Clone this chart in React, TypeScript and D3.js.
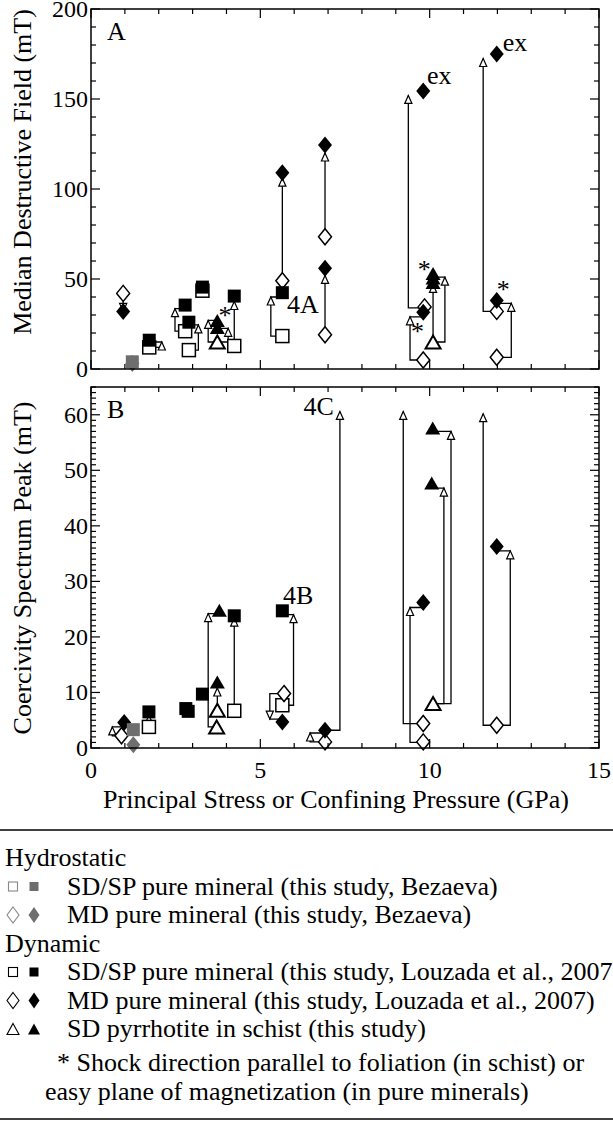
import React from "react";
import * as d3 from "d3";

// Shock demagnetization summary: two stacked panels + legend
const W = 613;
const H = 1124;
const FONT = "Liberation Serif, Tinos, Times New Roman, DejaVu Serif, serif";

// ---- panel A: median destructive field (mT) ----
const openSquaresA = [[1.72, 12], [2.78, 21], [2.89, 10.5], [3.29, 43.5], [4.23, 12.8], [5.65, 18.3]];
const filledSquaresA = [[1.72, 16], [2.78, 35.5], [2.89, 26], [3.29, 45.5], [4.23, 40.5], [5.65, 42.4]];
const openDiamondsA = [[0.95, 42], [5.65, 49], [6.91, 73.5], [6.91, 19], [9.85, 34.5], [9.81, 5], [11.98, 32], [11.98, 6.5]];
const filledDiamondsA = [[0.95, 32], [5.65, 109], [6.91, 124.5], [6.91, 56], [9.81, 154.5], [9.81, 31.5], [11.98, 175], [11.98, 38]];
const openTrianglesA = [[3.73, 15], [10.1, 15]];
const filledTrianglesA = [[3.73, 23], [3.73, 27], [10.1, 48], [10.1, 50.5], [10.1, 53]];
const graySquaresA = [[1.22, 4]];
const grayDiamondsA = [[1.22, 3]];
// x: pressure of sample, from -> to (mT), off: offset of the arrow shaft (GPa)
const arrowsA = [
  { x: 0.95, from: 42, to: 32, off: 0 },
  { x: 1.72, from: 12, to: 15, off: 0.37 },
  { x: 2.78, from: 21, to: 33.5, off: -0.3 },
  { x: 2.89, from: 10.5, to: 24.5, off: 0.28 },
  { x: 3.73, from: 15, to: 27, off: -0.27 },
  { x: 3.73, from: 15, to: 22.6, off: 0.32 },
  { x: 4.23, from: 12.8, to: 37.5, off: 0 },
  { x: 5.65, from: 49, to: 106, off: 0 },
  { x: 5.65, from: 18.3, to: 40, off: -0.34 },
  { x: 6.91, from: 73.5, to: 120, off: 0 },
  { x: 6.91, from: 19, to: 52, off: 0 },
  { x: 9.81, from: 34, to: 152, off: -0.44 },
  { x: 9.81, from: 5, to: 29, off: -0.39 },
  { x: 10.1, from: 15, to: 47, off: 0 },
  { x: 10.1, from: 15, to: 51, off: 0.35 },
  { x: 11.98, from: 32, to: 172.5, off: -0.4 },
  { x: 11.98, from: 6.5, to: 36.5, off: 0.43 },
];
const asterisksA = [[3.96, 32], [9.84, 57.8], [9.64, 23.5], [12.17, 46.7]];
const labelsA = [
  { x: 9.92, y: 163, text: "ex", anchor: "start" },
  { x: 12.16, y: 181.7, text: "ex", anchor: "start" },
  { x: 5.79, y: 36, text: "4A", anchor: "start" },
];

// ---- panel B: coercivity spectrum peak (mT) ----
const openSquaresB = [[1.71, 3.8], [4.23, 6.7], [5.65, 7.7]];
const filledSquaresB = [[1.71, 6.5], [2.8, 7.1], [2.87, 6.6], [3.29, 9.7], [4.23, 23.8], [5.65, 24.7]];
const openDiamondsB = [[0.9, 2.2], [5.7, 9.8], [6.91, 1.1], [9.81, 4.4], [9.81, 1.1], [11.98, 4.1]];
const filledDiamondsB = [[0.98, 4.6], [5.65, 4.7], [6.91, 3.2], [9.81, 26.2], [11.98, 36.3]];
const openTrianglesB = [[3.71, 3.8], [3.73, 6.8], [10.1, 8]];
const filledTrianglesB = [[3.79, 24.8], [3.73, 11.9], [10.09, 57.6], [10.06, 47.7]];
const graySquaresB = [[1.25, 3.3]];
const grayDiamondsB = [[1.25, 0.6]];
const arrowsB = [
  { x: 0.9, from: 2.2, to: 3.8, off: -0.27 },
  { x: 1.71, from: 3.8, to: 5.9, off: 0 },
  { x: 3.73, from: 3.8, to: 24.2, off: -0.27 },
  { x: 3.73, from: 6.8, to: 10.8, off: 0 },
  { x: 4.23, from: 6.7, to: 23.4, off: 0 },
  { x: 5.65, from: 7.7, to: 24, off: 0.33 },
  { x: 5.65, from: 9.8, to: 5.2, off: -0.37 },
  { x: 6.91, from: 1.1, to: 2.7, off: -0.44 },
  { x: 6.91, from: 3.2, to: 60.6, off: 0.44 },
  { x: 9.81, from: 4.4, to: 60.6, off: -0.59 },
  { x: 9.81, from: 1.0, to: 25.3, off: -0.39 },
  { x: 10.1, from: 8, to: 57, off: 0.53 },
  { x: 10.1, from: 8, to: 46.8, off: 0.32 },
  { x: 11.98, from: 4.1, to: 60.2, off: -0.4 },
  { x: 11.98, from: 4.1, to: 35.5, off: 0.4 },
];
const labelsB = [
  { x: 5.67, y: 27.4, text: "4B", anchor: "start" },
  { x: 7.17, y: 61.5, text: "4C", anchor: "end" },
];

const xTickLabels = [0, 5, 10, 15];

const legendHeads = ["Hydrostatic", "Dynamic"];
const legendItems = [
  { group: 0, shape: "square", color: "#6e6e6e", text: "SD/SP pure mineral (this study, Bezaeva)" },
  { group: 0, shape: "diamond", color: "#6e6e6e", text: "MD pure mineral (this study, Bezaeva)" },
  { group: 1, shape: "square", color: "#000", text: "SD/SP pure mineral (this study, Louzada et al., 2007)" },
  { group: 1, shape: "diamond", color: "#000", text: "MD pure mineral (this study, Louzada et al., 2007)" },
  { group: 1, shape: "triangle", color: "#000", text: "SD pyrrhotite in schist (this study)" },
];
const noteLines = [
  "* Shock direction parallel to foliation (in schist) or",
  "easy plane of magnetization (in pure minerals)",
];

const GRAY = "#6e6e6e";

function diamondPath(cx: number, cy: number, hw: number, hh: number) {
  return `M${cx},${cy - hh}L${cx + hw},${cy}L${cx},${cy + hh}L${cx - hw},${cy}Z`;
}
function trianglePath(cx: number, cy: number, hw: number, hh: number, up = true) {
  const s = up ? 1 : -1;
  return `M${cx},${cy - s * hh}L${cx + hw},${cy + s * hh}L${cx - hw},${cy + s * hh}Z`;
}

function Panel({ yMax, yRange, yMajor, yMinor, title, titleY, letter, showXLabels, d }: any) {
  const x = d3.scaleLinear().domain([0, 15]).range([91, 599]);
  const y = d3.scaleLinear().domain([0, yMax]).range(yRange);
  const [bottom, top] = yRange;
  const xt = d3.range(0, 15.001, 1);
  const yt = d3.range(0, yMax + 0.001, yMinor);
  const sq = 6.5;
  return (
    <g>
      {d.arrows.map((a: any, i: number) => {
        const xs = x(a.x + a.off);
        const link = a.off !== 0 && a.to < 60;
        const p = d3.path();
        p.moveTo(x(a.x), y(a.from));
        p.lineTo(xs, y(a.from));
        p.lineTo(xs, y(a.to));
        if (link) p.lineTo(x(a.x), y(a.to));
        return <path key={"a" + i} d={p.toString()} fill="none" stroke="#000" strokeWidth={1.3} />;
      })}
      {d.arrows.map((a: any, i: number) => {
        const up = a.to > a.from;
        const tx = x(a.x + a.off);
        const ty = y(a.to);
        return (
          <path key={"h" + i} d={trianglePath(tx, up ? ty + 4 : ty - 4, 3.6, 4, up)}
            fill="#fff" stroke="#000" strokeWidth={1.2} />
        );
      })}
      {d.openSquares.map(([a, b]: number[], i: number) => (
        <rect key={"os" + i} x={x(a) - sq} y={y(b) - sq} width={sq * 2} height={sq * 2}
          fill="#fff" stroke="#000" strokeWidth={1.5} />
      ))}
      {d.openDiamonds.map(([a, b]: number[], i: number) => (
        <path key={"od" + i} d={diamondPath(x(a), y(b), 6.5, 8)} fill="#fff" stroke="#000" strokeWidth={1.5} />
      ))}
      {d.openTriangles.map(([a, b]: number[], i: number) => (
        <path key={"ot" + i} d={trianglePath(x(a), y(b), 7.5, 6.5)} fill="#fff" stroke="#000" strokeWidth={2} />
      ))}
      {d.filledSquares.map(([a, b]: number[], i: number) => (
        <rect key={"fs" + i} x={x(a) - sq} y={y(b) - sq} width={sq * 2} height={sq * 2} fill="#000" />
      ))}
      {d.filledDiamonds.map(([a, b]: number[], i: number) => (
        <path key={"fd" + i} d={diamondPath(x(a), y(b), 7, 8.5)} fill="#000" />
      ))}
      {d.filledTriangles.map(([a, b]: number[], i: number) => (
        <path key={"ft" + i} d={trianglePath(x(a), y(b), 7.5, 6.5)} fill="#000" />
      ))}
      {d.graySquares.map(([a, b]: number[], i: number) => (
        <rect key={"gs" + i} x={x(a) - sq} y={y(b) - sq} width={sq * 2} height={sq * 2} fill={GRAY} />
      ))}
      {d.grayDiamonds.map(([a, b]: number[], i: number) => (
        <path key={"gd" + i} d={diamondPath(x(a), y(b), 7, 8.5)} fill={GRAY} />
      ))}
      {d.asterisks.map(([a, b]: number[], i: number) => (
        <text key={"st" + i} x={x(a)} y={y(b) + 13} textAnchor="middle" fontSize={26} fill="#000">*</text>
      ))}
      {d.labels.map((l: any, i: number) => (
        <text key={"lb" + i} x={x(l.x)} y={y(l.y)} dy="0.33em" textAnchor={l.anchor} fontSize={26}>{l.text}</text>
      ))}
      <rect x={91} y={top} width={599 - 91} height={bottom - top} fill="none" stroke="#000" strokeWidth={1.5} />
      {xt.map((v) => {
        const len = v % 5 === 0 ? 9 : 5;
        return (
          <g key={"xt" + v}>
            <line x1={x(v)} x2={x(v)} y1={bottom} y2={bottom - len} stroke="#000" strokeWidth={1.2} />
            <line x1={x(v)} x2={x(v)} y1={top} y2={top + len} stroke="#000" strokeWidth={1.2} />
          </g>
        );
      })}
      {yt.map((v) => {
        const len = Math.abs(v % yMajor) < 1e-6 ? 9 : 5;
        return (
          <g key={"yt" + v}>
            <line x1={91} x2={91 + len} y1={y(v)} y2={y(v)} stroke="#000" strokeWidth={1.2} />
            <line x1={599} x2={599 - len} y1={y(v)} y2={y(v)} stroke="#000" strokeWidth={1.2} />
          </g>
        );
      })}
      {d3.range(0, yMax + 0.001, yMajor).map((v) => (
        <text key={"yl" + v} x={88} y={y(v) + 8} textAnchor="end" fontSize={24}>{v}</text>
      ))}
      {showXLabels && xTickLabels.map((v) => (
        <text key={"xl" + v} x={x(v)} y={bottom + 30} textAnchor="middle" fontSize={24}>{v}</text>
      ))}
      <text x={107} y={top + 31} fontSize={26}>{letter}</text>
      <text transform={`translate(31,${titleY}) rotate(-90)`} textAnchor="middle" fontSize={26}>{title}</text>
    </g>
  );
}

function Legend() {
  const rowY = d3.scaleLinear().domain([0, 6]).range([866, 1037]);
  const rows: any[] = [];
  let r = 0;
  legendHeads.forEach((h, gi) => {
    rows.push({ head: h, y: rowY(r++) });
    legendItems.filter((it) => it.group === gi).forEach((it) => rows.push({ ...it, y: rowY(r++) }));
  });
  const cxOpen = 13;
  const cxFilled = 34;
  return (
    <g fontSize={26}>
      <line x1={0} x2={W} y1={830} y2={830} stroke="#000" strokeWidth={1.5} />
      {rows.map((row, i) => {
        if (row.head) return <text key={i} x={5} y={row.y}>{row.head}</text>;
        const cy = row.y - 8;
        const stroke = row.color === "#000" ? "#000" : "#888";
        let open, filled;
        if (row.shape === "square") {
          open = <rect x={cxOpen - 4.5} y={cy - 4.5} width={9} height={9} fill="#fff" stroke={stroke} strokeWidth={1.1} />;
          filled = <rect x={cxFilled - 4.5} y={cy - 4.5} width={9} height={9} fill={row.color} />;
        } else if (row.shape === "diamond") {
          open = <path d={diamondPath(cxOpen, cy, 6, 8)} fill="#fff" stroke={stroke} strokeWidth={1.1} />;
          filled = <path d={diamondPath(cxFilled, cy, 5.5, 8)} fill={row.color} />;
        } else {
          open = <path d={trianglePath(cxOpen, cy, 6, 5.5)} fill="#fff" stroke="#000" strokeWidth={1.1} />;
          filled = <path d={trianglePath(cxFilled, cy, 6, 5.5)} fill="#000" />;
        }
        return (
          <g key={i}>
            {open}
            {filled}
            <text x={67} y={row.y}>{row.text}</text>
          </g>
        );
      })}
      <text x={57} y={1071}>{noteLines[0]}</text>
      <text x={45} y={1100}>{noteLines[1]}</text>
      <line x1={0} x2={W} y1={1119} y2={1119} stroke="#000" strokeWidth={1.5} />
    </g>
  );
}

export default function App() {
  const dA = {
    arrows: arrowsA, openSquares: openSquaresA, filledSquares: filledSquaresA,
    openDiamonds: openDiamondsA, filledDiamonds: filledDiamondsA, openTriangles: openTrianglesA,
    filledTriangles: filledTrianglesA, graySquares: graySquaresA, grayDiamonds: grayDiamondsA,
    asterisks: asterisksA, labels: labelsA,
  };
  const dB = {
    arrows: arrowsB, openSquares: openSquaresB, filledSquares: filledSquaresB,
    openDiamonds: openDiamondsB, filledDiamonds: filledDiamondsB, openTriangles: openTrianglesB,
    filledTriangles: filledTrianglesB, graySquares: graySquaresB, grayDiamonds: grayDiamondsB,
    asterisks: [], labels: labelsB,
  };
  return (
    <svg width={W} height={H} style={{ position: "absolute", left: 0, top: 0, background: "#fff", fontFamily: FONT }}>
      <rect width={W} height={H} fill="#fff" />
      <Panel yMax={200} yRange={[369, 9]} yMajor={50} yMinor={10} title="Median Destructive Field (mT)"
        titleY={172} letter="A" showXLabels={false} d={dA} />
      <Panel yMax={65} yRange={[748, 387]} yMajor={10} yMinor={1} title="Coercivity Spectrum Peak (mT)"
        titleY={568} letter="B" showXLabels={true} d={dB} />
      <text x={336} y={808} textAnchor="middle" fontSize={26}>
        Principal Stress or Confining Pressure (GPa)
      </text>
      <Legend />
    </svg>
  );
}
